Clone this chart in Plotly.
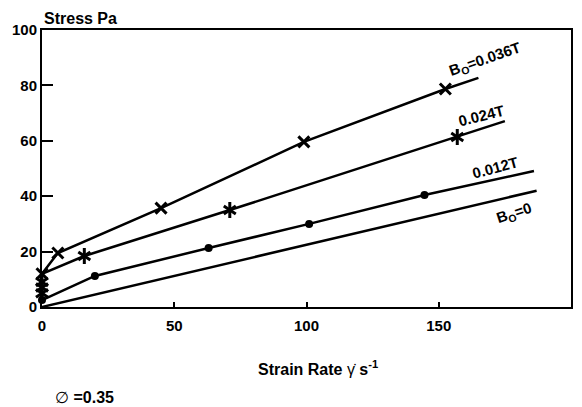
import plotly.graph_objects as go

# ---- data ----
# B0 = 0.036 T  (x markers)
x036_pts = [0, 6, 45, 99, 152.5]
y036_pts = [12, 19.5, 35.7, 59.6, 78.7]
x036_line = [0, 6, 45, 99, 152.5, 165]
y036_line = [12, 19.5, 35.7, 59.6, 78.7, 82.7]

# B0 = 0.024 T  (asterisk markers)
x024_pts = [0, 0, 0, 16, 71, 157]
y024_pts = [5, 7, 9, 18.4, 35, 61.4]
x024_line = [0, 16, 71, 157, 175]
y024_line = [12, 18.4, 35, 61.4, 67.1]

# B0 = 0.012 T  (dots)
x012_pts = [0, 20, 63, 101, 144.6]
y012_pts = [2.5, 11.2, 21.3, 30, 40.4]
x012_line = [0, 20, 63, 101, 144.6, 186]
y012_line = [2.5, 11.2, 21.3, 30, 40.4, 49.1]

# B0 = 0
x0_line = [0, 187]
y0_line = [0, 42]

x_ticks = [0, 50, 100, 150, 200]
y_ticks = [0, 20, 40, 60, 80, 100]

labels = ["B<sub>O</sub>=0.036T", "0.024T", "0.012T", "B<sub>O</sub>=0"]
label_x = [167.6, 166.1, 171.4, 178.5]
label_y = [89.2, 69.0, 50.2, 33.9]
label_angle = [-19, -14, -15, -18]

FONT = "Liberation Sans, Arial, sans-serif"
BLACK = "#000000"

fig = go.Figure()

line_style = dict(color=BLACK, width=2.5)
for xs, ys in [(x036_line, y036_line), (x024_line, y024_line),
               (x012_line, y012_line), (x0_line, y0_line)]:
    fig.add_trace(go.Scatter(x=xs, y=ys, mode="lines", line=line_style,
                             showlegend=False, hoverinfo="skip", cliponaxis=False))

fig.add_trace(go.Scatter(x=x036_pts, y=y036_pts, mode="markers", showlegend=False,
                         marker=dict(symbol="x-thin-open", size=11, color=BLACK,
                                     line=dict(color=BLACK, width=3)),
                         cliponaxis=False))
for sym in ["y-up-open", "y-down-open"]:
    fig.add_trace(go.Scatter(x=x024_pts, y=y024_pts, mode="markers", showlegend=False,
                             marker=dict(symbol=sym, size=10, color=BLACK,
                                         line=dict(color=BLACK, width=3)),
                             cliponaxis=False))
fig.add_trace(go.Scatter(x=x012_pts, y=y012_pts, mode="markers", showlegend=False,
                         marker=dict(symbol="circle", size=8, color=BLACK),
                         cliponaxis=False))

for t, xx, yy, a in zip(labels, label_x, label_y, label_angle):
    fig.add_annotation(x=xx, y=yy, xref="x", yref="y", text="<b>" + t + "</b>",
                       textangle=a, showarrow=False,
                       font=dict(family=FONT, size=15, color=BLACK))

fig.add_annotation(x=0.0, y=1.043, xref="paper", yref="paper", xanchor="left",
                   yanchor="middle", text="<b>Stress Pa</b>", showarrow=False,
                   font=dict(family=FONT, size=16, color=BLACK))
fig.add_annotation(x=0.405, y=-0.22, xref="paper", yref="paper", xanchor="left",
                   yanchor="middle", text="<b>Strain Rate </b>γ̇<b> s<sup>-1</sup></b>",
                   showarrow=False, font=dict(family=FONT, size=16, color=BLACK))
fig.add_annotation(x=0.02, y=-0.328, xref="paper", yref="paper", xanchor="left",
                   yanchor="middle", text="∅ <b>=0.35</b>", showarrow=False,
                   font=dict(family=FONT, size=16, color=BLACK))

fig.update_layout(
    width=582, height=407,
    margin=dict(l=42, r=9, t=30, b=100),
    paper_bgcolor="white", plot_bgcolor="white",
    font=dict(family=FONT, color=BLACK),
    xaxis=dict(range=[0, 200], tickvals=x_ticks, ticks="inside", ticklen=5,
               tickwidth=1.5, tickcolor=BLACK, showgrid=False, zeroline=False,
               showline=True, linecolor=BLACK, linewidth=2, mirror=True,
               ticklabelstandoff=4,
               tickfont=dict(family=FONT, size=15, color=BLACK, weight="bold")),
    yaxis=dict(range=[0, 100], tickvals=y_ticks, ticks="inside", ticklen=11,
               tickwidth=1.5, tickcolor=BLACK, showgrid=False, zeroline=False,
               showline=True, linecolor=BLACK, linewidth=2, mirror=True,
               tickfont=dict(family=FONT, size=15, color=BLACK, weight="bold")),
)

fig.write_html("out.html", config={"displayModeBar": False},
               post_script="document.body.style.margin='0';document.body.style.overflow='hidden';")
